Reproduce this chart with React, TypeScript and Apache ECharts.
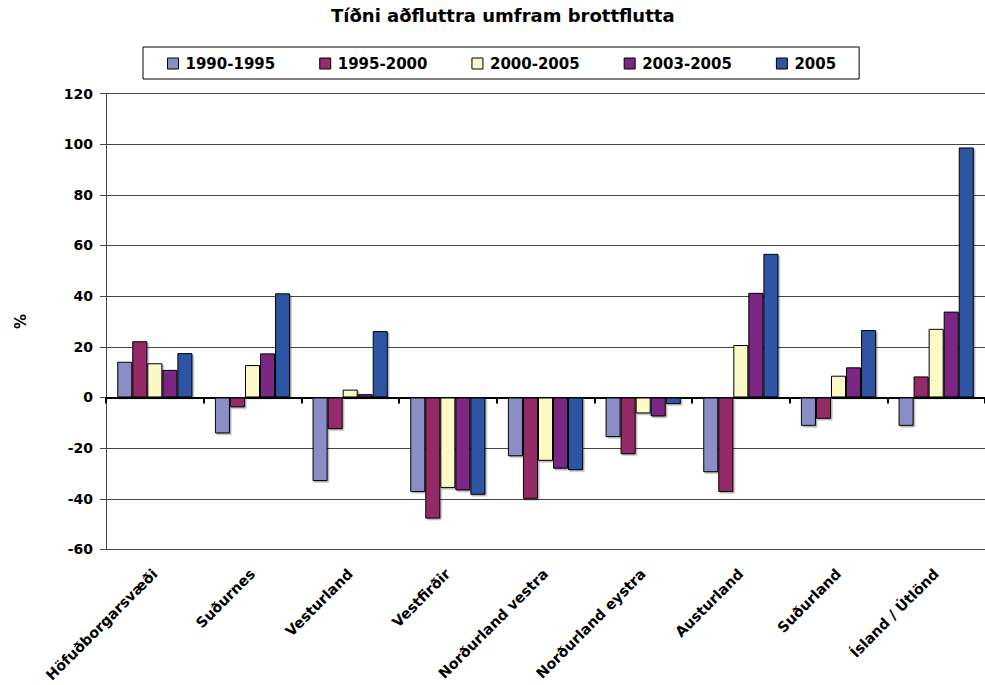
import React, { useEffect, useRef } from "react";
import * as echarts from "echarts";

const categories = [
  "Höfuðborgarsvæði",
  "Suðurnes",
  "Vesturland",
  "Vestfirðir",
  "Norðurland vestra",
  "Norðurland eystra",
  "Austurland",
  "Suðurland",
  "Ísland / Útlönd",
];

const seriesNames = ["1990-1995", "1995-2000", "2000-2005", "2003-2005", "2005"];
const seriesColors = ["#8B8EC6", "#952B67", "#FBF9C6", "#7A2682", "#2E54A4"];

const v1990_1995 = [14.1, -14.2, -33, -37.3, -23.2, -15.6, -29.5, -11.2, -11.2];
const v1995_2000 = [22.2, -3.9, -12.5, -47.8, -40, -22.4, -37.3, -8.4, 8.3];
const v2000_2005 = [13.5, 12.8, 3.1, -35.7, -25, -6.3, 20.7, 8.6, 27.1];
const v2003_2005 = [10.9, 17.4, 1.3, -36.7, -28.1, -7.5, 41.3, 11.9, 33.9];
const v2005 = [17.5, 41.1, 26.2, -38.4, -28.7, -2.6, 56.7, 26.6, 98.7];

const allValues = [v1990_1995, v1995_2000, v2000_2005, v2003_2005, v2005];

const FONT = "'DejaVu Sans', sans-serif";

export default function App() {
  const ref = useRef<HTMLDivElement>(null);

  useEffect(() => {
    document.body.style.margin = "0";
    if (!ref.current) return;
    const chart = echarts.init(ref.current, null, { renderer: "svg" });
    chart.setOption({
      animation: false,
      backgroundColor: "#ffffff",
      title: {
        text: "Tíðni aðfluttra umfram brottflutta",
        left: 331,
        top: 6,
        padding: 0,
        textStyle: { fontFamily: FONT, fontSize: 18, fontWeight: "bold", color: "#000" },
      },
      legend: {
        left: 143,
        top: 47,
        padding: [9, 23, 8, 24],
        borderColor: "#000",
        borderWidth: 1,
        itemWidth: 11,
        itemHeight: 11,
        itemGap: 44,
        icon: "rect",
        itemStyle: { borderColor: "#000", borderWidth: 1 },
        textStyle: {
          fontFamily: FONT,
          fontSize: 15,
          fontWeight: "bold",
          color: "#000",
          padding: [0, 0, 0, 2],
        },
        data: seriesNames,
      },
      grid: {
        left: 106,
        top: 93.5,
        width: 888,
        height: 457.3,
        containLabel: false,
      },
      xAxis: [
        {
          type: "category",
          data: categories,
          position: "bottom",
          axisLine: { show: false, onZero: false },
          axisTick: { show: false },
          axisLabel: {
            rotate: 45,
            interval: 0,
            margin: 22,
            fontFamily: FONT,
            fontSize: 14.4,
            fontWeight: "bold",
            color: "#000",
          },
          splitLine: { show: false },
        },
        {
          type: "category",
          data: categories,
          position: "bottom",
          axisLine: {
            show: true,
            onZero: true,
            onZeroAxisIndex: 0,
            lineStyle: { color: "#000", width: 2 },
          },
          axisTick: {
            show: true,
            interval: 0,
            length: 6,
            lineStyle: { color: "#000", width: 2 },
          },
          axisLabel: { show: false },
          splitLine: { show: false },
        },
      ],
      yAxis: {
        type: "value",
        min: -60,
        max: 120,
        interval: 20,
        name: "%",
        nameLocation: "middle",
        nameGap: 78,
        nameRotate: 90,
        nameTextStyle: { fontFamily: FONT, fontSize: 15, fontWeight: "bold", color: "#000" },
        axisLine: { show: true, lineStyle: { color: "#444", width: 1 } },
        axisTick: { show: true, length: 6, lineStyle: { color: "#444", width: 1 } },
        axisLabel: {
          margin: 13,
          fontFamily: FONT,
          fontSize: 14,
          fontWeight: "bold",
          color: "#000",
        },
        splitLine: { show: true, lineStyle: { color: "#444", width: 1 } },
      },
      series: seriesNames.map((name, i) => ({
        name,
        type: "bar",
        xAxisIndex: 0,
        data: allValues[i],
        barGap: "0%",
        barCategoryGap: "23%",
        itemStyle: {
          color: seriesColors[i],
          borderColor: "#000",
          borderWidth: 1,
          shadowColor: "rgba(0,0,0,0.3)",
          shadowOffsetX: 1.5,
          shadowOffsetY: 1.5,
          shadowBlur: 1,
        },
      })),
    });
    return () => chart.dispose();
  }, []);

  return <div ref={ref} style={{ width: 985, height: 685 }} />;
}
